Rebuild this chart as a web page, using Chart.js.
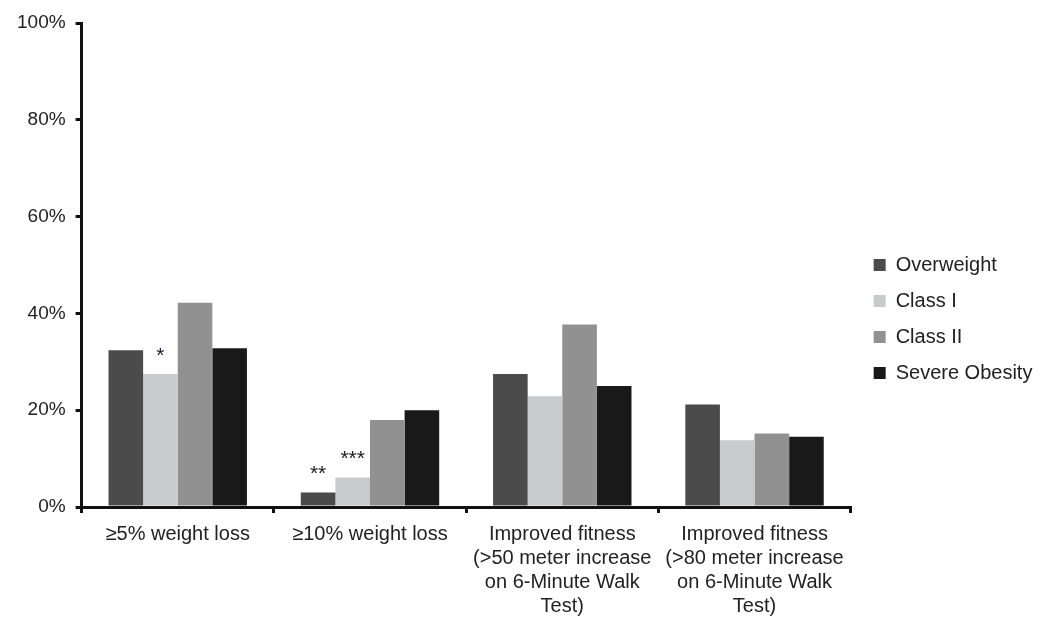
<!DOCTYPE html>
<html>
<head>
<meta charset="utf-8">
<script src="https://cdn.jsdelivr.net/npm/chart.js@4/dist/chart.umd.min.js"></script>
<style>
  html, body { margin: 0; padding: 0; background: #fff; }
  #wrap { width: 1050px; height: 629px; }
</style>
</head>
<body>
<div id="wrap"><canvas id="outcomeChart"></canvas></div>
<script>
// Outcome categories (multi-line labels)
const categories = [
  ['≥5% weight loss'],
  ['≥10% weight loss'],
  ['Improved fitness', '(>50 meter increase', 'on 6-Minute Walk', 'Test)'],
  ['Improved fitness', '(>80 meter increase', 'on 6-Minute Walk', 'Test)']
];

// Percent of participants per BMI class
const overweight    = [32.4, 3.0, 27.5, 21.2];
const classI        = [27.5, 6.1, 22.9, 13.8];
const classII       = [42.2, 18.0, 37.7, 15.2];
const severeObesity = [32.8, 20.0, 25.0, 14.5];

// Significance markers above bars
const overweightStars = ['', '**', '', ''];
const classIStars     = ['*', '***', '', ''];

const yTicks = [0, 20, 40, 60, 80, 100];

const textColor = '#222';

// Draw the asterisks above the flagged bars
const starsPlugin = {
  id: 'stars',
  afterInit(chart) {
    // legend measures the text a bit short and clips the last letters, give it some room
    const lg = chart.legend;
    if (lg) {
      const fit = lg.fit.bind(lg);
      lg.fit = function () {
        fit();
        this.width += 6;
      };
    }
  },
  afterDatasetsDraw(chart) {
    const ctx = chart.ctx;
    ctx.save();
    ctx.font = '21px "Liberation Sans", Arial, sans-serif';
    ctx.fillStyle = '#1c1c28';
    ctx.textAlign = 'center';
    ctx.textBaseline = 'alphabetic';
    chart.data.datasets.forEach((ds, di) => {
      if (!ds.stars) return;
      const meta = chart.getDatasetMeta(di);
      ds.stars.forEach((s, i) => {
        if (!s) return;
        const bar = meta.data[i];
        ctx.fillText(s, bar.x, bar.y - 12);
      });
    });
    ctx.restore();
  }
};

// invisible spacer axis
function spacer(position, size) {
  return {
    type: 'linear',
    position: position,
    display: true,
    grid: { display: false },
    border: { display: false },
    ticks: { display: false },
    afterFit(axis) {
      if (axis.isHorizontal()) axis.height = size;
      else axis.width = size;
    }
  };
}

function initChart() {
  const ctx = document.getElementById('outcomeChart');
  new Chart(ctx, {
    type: 'bar',
    data: {
      labels: categories,
      datasets: [
        { label: 'Overweight', data: overweight, backgroundColor: '#4b4b4b', stars: overweightStars },
        { label: 'Class I', data: classI, backgroundColor: '#c9cacc', stars: classIStars },
        { label: 'Class II', data: classII, backgroundColor: '#919191' },
        { label: 'Severe Obesity', data: severeObesity, backgroundColor: '#191919' }
      ]
    },
    options: {
      responsive: true,
      maintainAspectRatio: false,
      animation: false,
      datasets: {
        bar: { categoryPercentage: 0.72, barPercentage: 1.0 }
      },
      layout: {
        padding: { left: 7, top: 11, right: 15, bottom: 2 }
      },
      plugins: {
        tooltip: { enabled: false },
        legend: {
          position: 'right',
          align: 'center',
          labels: {
            color: textColor,
            font: { family: '"Liberation Sans", Arial, sans-serif', size: 20 },
            boxWidth: 12,
            boxHeight: 12,
            padding: 16
          }
        }
      },
      scales: {
        x: {
          grid: {
            offset: true,
            drawOnChartArea: false,
            drawTicks: true,
            tickLength: 6,
            color: '#111',
            lineWidth: 3
          },
          border: { display: true, color: '#111', width: 3 },
          ticks: {
            color: textColor,
            font: { family: '"Liberation Sans", Arial, sans-serif', size: 20, lineHeight: 1.2 },
            padding: 9,
            maxRotation: 0,
            autoSkip: false
          }
        },
        y: {
          min: 0,
          max: 100,
          afterBuildTicks(axis) {
            axis.ticks = yTicks.map(v => ({ value: v }));
          },
          grid: {
            drawOnChartArea: false,
            drawTicks: true,
            tickLength: 6,
            color: '#111',
            lineWidth: 3
          },
          border: { display: true, color: '#111', width: 3 },
          ticks: {
            color: textColor,
            font: { family: '"Liberation Sans", Arial, sans-serif', size: 19 },
            padding: 10,
            callback: (v) => v + '%'
          }
        },
        gapRight: spacer('right', 7),
        gapTop: spacer('top', 12)
      }
    },
    plugins: [starsPlugin]
  });
}

document.addEventListener('DOMContentLoaded', initChart);
</script>
</body>
</html>
